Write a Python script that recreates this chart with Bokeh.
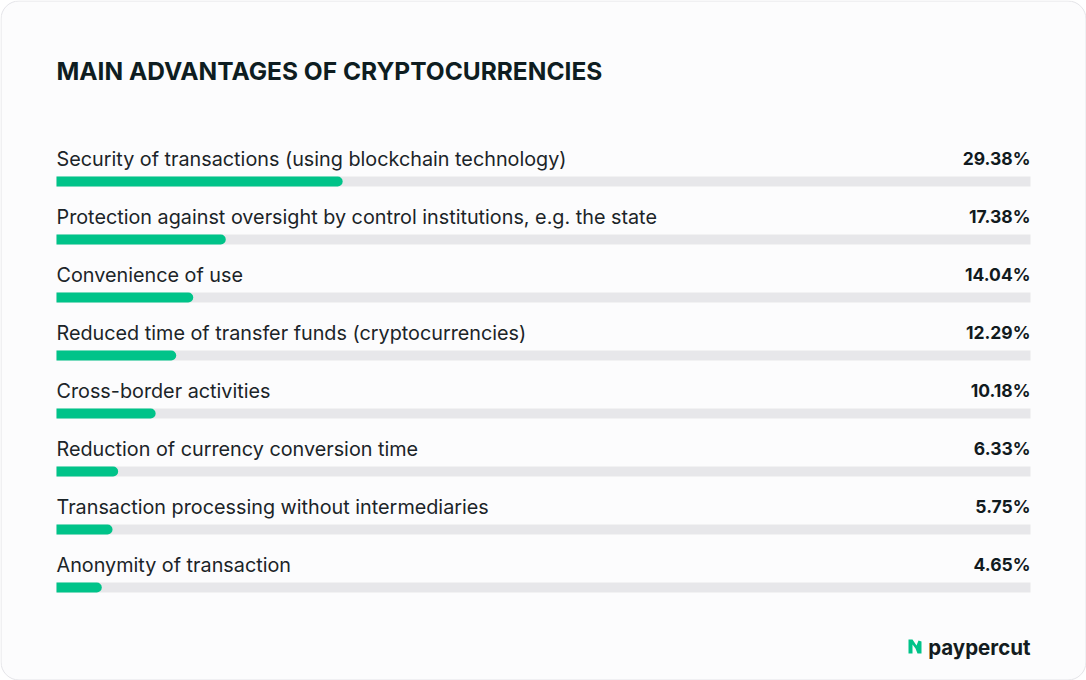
from bokeh.plotting import figure
from bokeh.models import Range1d, ColumnDataSource
from bokeh.core.properties import value
from bokeh.embed import file_html
from bokeh.resources import INLINE

title = "MAIN ADVANTAGES OF CRYPTOCURRENCIES"
categories = [
    "Security of transactions (using blockchain technology)",
    "Protection against oversight by control institutions, e.g. the state",
    "Convenience of use",
    "Reduced time of transfer funds (cryptocurrencies)",
    "Cross-border activities",
    "Reduction of currency conversion time",
    "Transaction processing without intermediaries",
    "Anonymity of transaction",
]
values = [29.38, 17.38, 14.04, 12.29, 10.18, 6.33, 5.75, 4.65]
brand = "paypercut"

W, H = 1086, 680
LEFT_PX, RIGHT_PX = 56, 1030
SCALE = (RIGHT_PX - LEFT_PX) / 100.0

def px2v(px):
    return (px - LEFT_PX) / SCALE

p = figure(width=W, height=H, output_backend="svg", toolbar_location=None,
           x_range=Range1d(px2v(0), px2v(W)), y_range=Range1d(H, 0),
           min_border=0, min_border_left=0, min_border_right=0,
           min_border_top=0, min_border_bottom=0)
p.axis.visible = False
p.grid.visible = False
p.outline_line_color = None
p.background_fill_color = "white"
p.border_fill_color = "white"

# card
p.quad(left=px2v(0.5), right=px2v(W - 0.5), top=0.5, bottom=H - 0.5,
       fill_color="#fcfcfd", line_color="#e4e4e8", line_width=1, border_radius=18)

ROW0_LABEL, ROW0_BAR, STEP = 158, 181, 58
n = len(categories)
label_y = [ROW0_LABEL + i * STEP for i in range(n)]
bar_y = [ROW0_BAR + i * STEP for i in range(n)]

src = ColumnDataSource(dict(cat=categories, val=values,
                            txt=[f"{v:.2f}%" for v in values],
                            ly=label_y, by=bar_y,
                            zero=[0] * n, full=[100] * n))

p.hbar(y="by", left="zero", right="full", height=10, source=src,
       fill_color="#e7e7ea", line_color=None)
p.hbar(y="by", left="zero", right="val", height=10, source=src,
       fill_color="#00c389", line_color=None, border_radius=(0, 5, 5, 0))

p.text(x=0, y=70, text=[title], text_font=value("Inter"), text_font_size="24.5px",
       text_font_style="bold", text_color="#0e1d21", text_baseline="middle",
       text_align="left")

p.text(x="zero", y="ly", text="cat", source=src, text_font=value("Inter"),
       text_font_size="19.8px", text_color="#1b2428", text_baseline="middle",
       text_align="left")
p.text(x="full", y="ly", text="txt", source=src, text_font=value("Inter"),
       text_font_size="17.5px", text_font_style="bold", text_color="#111a1e",
       text_baseline="middle", text_align="right")

# brand logo
ix = [908, 912, 916, 918, 921, 921, 917, 915, 912, 912, 908]
iy = [639, 639, 645, 640, 641, 653, 653, 648, 644, 653, 653]
p.patch(x=[px2v(v) for v in ix], y=iy, fill_color="#00c389", line_color=None)
p.text(x=100, y=647, text=[brand], text_font=value("Inter"), text_font_size="20.5px",
       text_font_style="bold", text_color="#141c20", text_baseline="middle",
       text_align="right")

open("out.html", "w").write(file_html(p, INLINE))
